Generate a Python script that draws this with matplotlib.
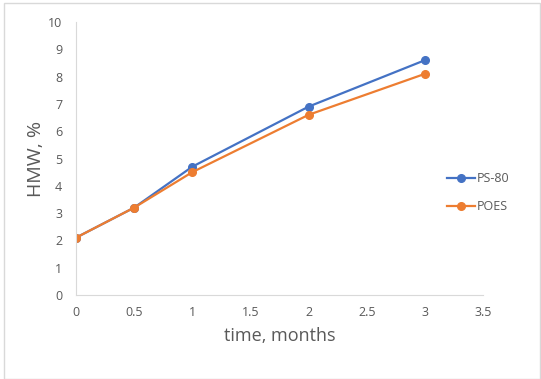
import matplotlib
matplotlib.use("Agg")
import matplotlib.pyplot as plt
from matplotlib.patches import Rectangle

time = [0, 0.5, 1, 2, 3]
ps80 = [2.1, 3.2, 4.7, 6.9, 8.6]
poes = [2.1, 3.2, 4.5, 6.6, 8.1]
series_names = ["PS-80", "POES"]
colors = ["#4472C4", "#ED7D31"]

plt.rcParams['font.family'] = ['Open Sans', 'DejaVu Sans']

fig = plt.figure(figsize=(5.41, 3.79), dpi=100)
fig.patches.append(Rectangle((4/541, 0), 1 - 5/541, 1 - 3/379, transform=fig.transFigure,
                             fill=False, edgecolor="#D9D9D9", linewidth=1))
ax = fig.add_axes([76/541, 1 - 295/379, (483 - 76)/541, (295 - 22)/379])

for vals, name, c in zip([ps80, poes], series_names, colors):
    ax.plot(time, vals, color=c, linewidth=1.6, marker='o', markersize=5.5, label=name)

ax.set_xlim(0, 3.5)
ax.set_ylim(0, 10)
ax.set_xticks([0, 0.5, 1, 1.5, 2, 2.5, 3, 3.5])
ax.set_xticklabels(["0", "0.5", "1", "1.5", "2", "2.5", "3", "3.5"])
ax.set_yticks(range(0, 11))
for s in ["top", "right"]:
    ax.spines[s].set_visible(False)
for s in ["left", "bottom"]:
    ax.spines[s].set_color("#D9D9D9")
ax.tick_params(length=0, labelsize=9, colors="#595959", pad=8)
ax.tick_params(axis='y', pad=10)
ax.set_xlabel("time, months", fontsize=13, color="#595959", labelpad=6)
ax.set_ylabel("HMW, %", fontsize=14, color="#595959", labelpad=2)

leg = ax.legend(loc="center left", bbox_to_anchor=(436/541, 1 - 193/379), bbox_transform=fig.transFigure,
                frameon=False, fontsize=9, labelcolor="#595959", handlelength=2.2,
                handletextpad=0.2, labelspacing=1.2)

fig.savefig("out.png", dpi=100)
